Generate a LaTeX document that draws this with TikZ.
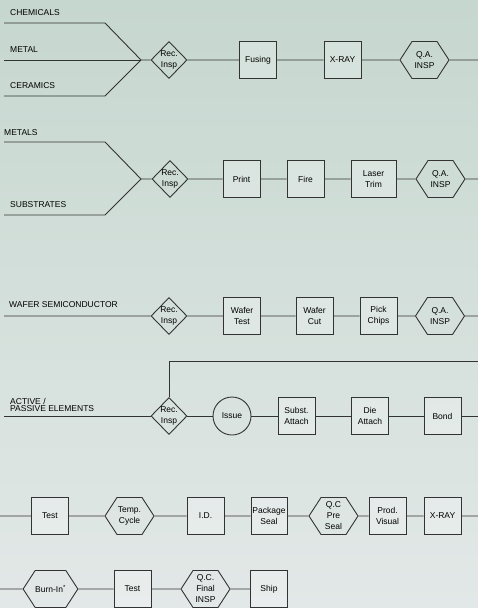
\documentclass[tikz,border=0pt]{standalone}
\usepackage{fontspec}
\setmainfont{Liberation Sans}
\usepackage{xcolor}
\usetikzlibrary{shapes,positioning}

\definecolor{bgtop}{HTML}{C6D7CF}
\definecolor{bgmid}{HTML}{B3C5BE}
\definecolor{bgbot}{HTML}{E2E8E7}
\definecolor{edge}{HTML}{333333}

\tikzset{
  flow/.style={draw=edge, line width=0.9pt},
  lbl/.style={anchor=west, inner sep=0pt, font=\fontsize{8.5}{8}\selectfont},
  stepbox/.style={draw=edge, line width=0.9pt, fill=white, fill opacity=0.25, text opacity=1,
    minimum width=37pt, minimum height=37pt, inner sep=1pt, align=center,
    font=\fontsize{8.5}{10.5}\selectfont},
  insp/.style={stepbox, diamond, minimum width=36pt, minimum height=37pt, inner sep=0pt, fill opacity=0},
  qcheck/.style={stepbox, signal, signal to=west and east, signal pointer angle=114,
    minimum width=49pt, minimum height=37pt, inner sep=0pt, fill opacity=0,
    font=\fontsize{8.5}{11}\selectfont},
  issuecirc/.style={stepbox, circle, minimum size=38pt, inner sep=0pt, fill opacity=0}
}

\begin{document}
\begin{tikzpicture}[x=1pt, y=-1pt]
    % background
    \shade[top color=bgtop, middle color=bgmid, bottom color=bgbot] (0,0) rectangle (478,608);
    \useasboundingbox (0,0) rectangle (478,608);

    % row 1: chemicals, metal, ceramics
    \node[lbl] (lblchem) at (10,13) {CHEMICALS};
    \node[lbl] (lblmetal) at (10,50) {METAL};
    \node[lbl] (lblceram) at (10,86) {CERAMICS};
    \coordinate (j1) at (141,60);
    \node[insp] (rec1) at (169,60) {Rec.\\Insp};
    \node[stepbox] (fusing) at (258,60) {Fusing};
    \node[stepbox] (xray1) at (342.5,60) {X-RAY};
    \node[qcheck] (qa1) at (424.5,60) {Q.A.\\INSP};
    \coordinate (end1) at (478,60);
    \draw[flow] (4,23) -- (105,23) -- (j1);
    \draw[flow] (4,60) -- (j1);
    \draw[flow] (4,96) -- (105,96) -- (j1);
    \draw[flow] (j1) -- (rec1) -- (fusing) -- (xray1) -- (qa1) -- (end1);

    % row 2: metals, substrates
    \node[lbl] (lblmetals) at (4,133) {METALS};
    \node[lbl] (lblsubst) at (10,205) {SUBSTRATES};
    \coordinate (j2) at (141,179);
    \node[insp] (rec2) at (170,179) {Rec.\\Insp};
    \node[stepbox] (print) at (241.5,179) {Print};
    \node[stepbox] (fire) at (305.5,179) {Fire};
    \node[stepbox, minimum width=45pt] (laser) at (373.5,179) {Laser\\Trim};
    \node[qcheck] (qa2) at (440.5,179) {Q.A.\\INSP};
    \coordinate (end2) at (478,179);
    \draw[flow] (4,142) -- (105,142) -- (j2);
    \draw[flow] (4,215) -- (105,215) -- (j2);
    \draw[flow] (j2) -- (rec2) -- (print) -- (fire) -- (laser) -- (qa2) -- (end2);

    % row 3: wafer
    \node[lbl] (lblwafer) at (9,305) {WAFER SEMICONDUCTOR};
    \node[insp] (rec3) at (169,316) {Rec.\\Insp};
    \node[stepbox] (wtest) at (242,316) {Wafer\\Test};
    \node[stepbox] (wcut) at (314.5,316) {Wafer\\Cut};
    \node[stepbox] (pick) at (378.5,316) {Pick\\Chips};
    \node[qcheck] (qa3) at (440,316) {Q.A.\\INSP};
    \coordinate (end3) at (478,316);
    \draw[flow] (4,316) -- (rec3) -- (wtest) -- (wcut) -- (pick) -- (qa3) -- (end3);

    % row 4: active / passive
    \node[lbl, align=left, font=\fontsize{8.5}{7.5}\selectfont] (lblactive) at (10,405) {ACTIVE /\\PASSIVE ELEMENTS};
    \node[insp] (rec4) at (169,416) {Rec.\\Insp};
    \node[issuecirc] (issue) at (232,416) {Issue};
    \node[stepbox] (subst) at (296.5,416) {Subst.\\Attach};
    \node[stepbox] (die) at (370,416) {Die\\Attach};
    \node[stepbox] (bond) at (442.5,416) {Bond};
    \coordinate (end4) at (478,416);
    \coordinate (loop4) at (478,361);
    \draw[flow] (4,416) -- (rec4) -- (issue) -- (subst) -- (die) -- (bond) -- (end4);
    \draw[flow] (rec4.north) |- (loop4);

    % row 5
    \coordinate (start5) at (0,516);
    \node[stepbox] (test1) at (50,516) {Test};
    \node[qcheck] (temp) at (129.5,516) {Temp.\\Cycle};
    \node[stepbox] (id) at (205.5,516) {I.D.};
    \node[stepbox, minimum width=36pt, inner sep=0pt] (pack) at (269,516) {Package\\Seal};
    \node[qcheck] (qcpre) at (333.5,516) {Q.C\\Pre\\Seal};
    \node[stepbox] (prod) at (387.5,516) {Prod.\\Visual};
    \node[stepbox] (xray2) at (442.5,516) {X-RAY};
    \coordinate (end5) at (478,516);
    \draw[flow] (start5) -- (test1) -- (temp) -- (id) -- (pack) -- (qcpre) -- (prod) -- (xray2) -- (end5);

    % row 6
    \coordinate (start6) at (0,589);
    \node[qcheck] (burn) at (50.5,589) {Burn-In\textsuperscript{*}};
    \node[stepbox] (test2) at (132.5,589) {Test};
    \node[qcheck] (qcfinal) at (205.5,589) {Q.C.\\Final\\INSP};
    \node[stepbox] (ship) at (269,589) {Ship};
    \draw[flow] (start6) -- (burn) -- (test2) -- (qcfinal) -- (ship);
\end{tikzpicture}
\end{document}
